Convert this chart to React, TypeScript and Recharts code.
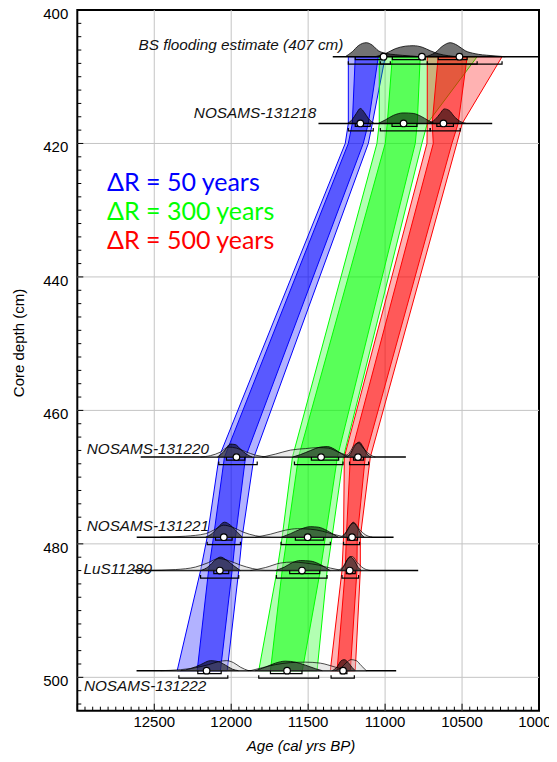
import React from 'react';
import { ComposedChart, Scatter, XAxis, YAxis, ReferenceLine, ReferenceArea, Curve } from 'recharts';

// ---- axes ----
const xTickLabels = [12500, 12000, 11500, 11000, 10500, 10000];
const yTickLabels = [400, 420, 440, 460, 480, 500];
const xAllTicks = Array.from({ length: 61 }, (_, i) => 10000 + i * 50);
const yAllTicks = Array.from({ length: 53 }, (_, i) => 400 + i * 2);

// ---- age-depth envelopes, [older, younger] cal BP at each band depth ----
const bandDepths = [407, 417, 420, 467, 479, 484, 499];
const blue95 = [[11239, 10999], [11239, 11083], [11259, 11109], [12079, 11852], [12156, 11929], [12199, 11951], [12351, 12026]];
const blue68 = [[11194, 11044], [11213, 11109], [11239, 11142], [12044, 11907], [12115, 11972], [12147, 11994], [12221, 12070]];
const green95 = [[11038, 10402], [11038, 10726], [11053, 10761], [11602, 11271], [11669, 11345], [11702, 11377], [11821, 11442]];
const green68 = [[10953, 10772], [10986, 10791], [10999, 10804], [11563, 11310], [11637, 11388], [11669, 11421], [11745, 11538]];
const red95 = [[10726, 10240], [10726, 10499], [10728, 10534], [11265, 11096], [11270, 11161], [11280, 11161], [11356, 11194]];
const red68 = [[10655, 10467], [10694, 10525], [10687, 10566], [11226, 11129], [11252, 11181], [11259, 11183], [11312, 11226]];

// ---- dated samples ----
const sampleNames = ['BS flooding estimate (407 cm)', 'NOSAMS-131218', 'NOSAMS-131220', 'NOSAMS-131221', 'LuS11280', 'NOSAMS-131222'];
const sampleDepths = [407, 417, 467, 479, 484, 499];
const baselineSpans = [[11340, 10000], [11433, 10304], [12588, 10865], [12614, 10945], [12642, 10785], [12615, 10928]];

const medianBlue = [11010, 11161, 11966, 12048, 12074, 12160];
const medianGreen = [10761, 10880, 11416, 11503, 11540, 11637];
const medianRed = [10517, 10621, 11176, 11215, 11230, 11273];

const range68Blue = [[11194, 10999], [11194, 11097], [12031, 11912], [12102, 11994], [12113, 12016], [12217, 12065]];
const range95Blue = [[11239, 10966], [11239, 11077], [12081, 11831], [12156, 11940], [12199, 11951], [12340, 12022]];
const range68Green = [[10953, 10739], [10955, 10793], [11479, 11302], [11583, 11399], [11620, 11425], [11745, 11540]];
const range95Green = [[11031, 10402], [11031, 10707], [11589, 11273], [11676, 11356], [11706, 11377], [11821, 11432]];
const range68Red = [[10655, 10467], [10664, 10556], [11205, 11140], [11244, 11179], [11252, 11194], [11291, 11248]];
const range95Red = [[10726, 10240], [10707, 10512], [11231, 11107], [11270, 11166], [11280, 11172], [11351, 11200]];

// probability curves: [age, relative density]
const posteriorBlue = [
  [[11259, 0], [11213, 0.5], [11174, 1.1], [11122, 1.4], [11083, 1.15], [11044, 0.6], [10999, 0.35], [10934, 0.2], [10837, 0.08], [10772, 0]],
  [[11245, 0], [11213, 0.4], [11187, 1.0], [11161, 1.5], [11135, 1.1], [11109, 0.5], [11070, 0]],
  [[12090, 0], [12051, 0.5], [12005, 1.3], [11973, 1.25], [11940, 0.8], [11901, 0.3], [11862, 0]],
  [[12167, 0], [12121, 0.4], [12082, 1.05], [12044, 1.5], [12005, 1.2], [11966, 0.6], [11927, 0]],
  [[12199, 0], [12147, 0.4], [12108, 1.0], [12070, 1.35], [12031, 1.05], [11985, 0.5], [11940, 0]],
  [[12329, 0], [12264, 0.2], [12199, 0.6], [12134, 1.0], [12082, 0.9], [12037, 0.55], [11992, 0.15], [11953, 0]],
];
const priorBlue = [
  [],
  [],
  [[12199, 0], [12134, 0.15], [12070, 0.5], [12018, 1.0], [11966, 0.9], [11907, 0.55], [11843, 0.2], [11759, 0]],
  [[12459, 0], [12297, 0.1], [12167, 0.35], [12102, 0.8], [12050, 1.2], [11992, 1.0], [11921, 0.5], [11843, 0.15], [11745, 0]],
  [[12545, 0], [12362, 0.1], [12232, 0.35], [12147, 0.8], [12082, 1.2], [12018, 1.0], [11940, 0.55], [11862, 0.2], [11778, 0]],
  [[12459, 0], [12329, 0.1], [12232, 0.3], [12147, 0.6], [12082, 0.9], [12031, 1.0], [11985, 0.8], [11940, 0.35], [11888, 0]],
];
const posteriorGreen = [
  [[11064, 0], [10999, 0.3], [10934, 0.8], [10869, 1.05], [10817, 1.1], [10759, 0.95], [10707, 0.6], [10655, 0.3], [10590, 0.1], [10525, 0]],
  [[11044, 0], [10999, 0.35], [10947, 0.8], [10882, 1.05], [10817, 1.0], [10765, 0.7], [10720, 0.3], [10681, 0]],
  [[11602, 0], [11550, 0.25], [11486, 0.65], [11421, 1.0], [11375, 1.05], [11330, 0.8], [11285, 0.35], [11239, 0]],
  [[11674, 0], [11615, 0.35], [11550, 0.8], [11486, 1.05], [11434, 1.0], [11382, 0.7], [11337, 0.3], [11304, 0]],
  [[11713, 0], [11654, 0.35], [11602, 0.8], [11550, 1.0], [11486, 0.95], [11434, 0.7], [11388, 0.3], [11356, 0]],
  [[11843, 0], [11778, 0.35], [11713, 0.75], [11648, 0.95], [11583, 0.85], [11518, 0.55], [11453, 0.2], [11408, 0]],
];
const priorGreen = [
  [],
  [],
  [[11797, 0], [11713, 0.3], [11615, 0.7], [11518, 0.85], [11434, 0.95], [11369, 0.9], [11304, 0.5], [11239, 0.15], [11194, 0]],
  [[11843, 0], [11745, 0.3], [11648, 0.7], [11570, 0.85], [11486, 0.8], [11408, 0.6], [11337, 0.3], [11259, 0]],
  [[11875, 0], [11778, 0.3], [11680, 0.75], [11602, 0.85], [11518, 0.75], [11434, 0.55], [11356, 0.25], [11278, 0]],
  [[11875, 0], [11797, 0.3], [11713, 0.6], [11615, 0.8], [11518, 0.85], [11421, 0.75], [11323, 0.35], [11239, 0]],
];
const posteriorRed = [
  [[10739, 0], [10675, 0.4], [10623, 1.1], [10577, 1.4], [10532, 1.15], [10480, 0.6], [10415, 0.3], [10318, 0.12], [10220, 0]],
  [[10720, 0], [10675, 0.4], [10642, 1.0], [10616, 1.45], [10584, 1.3], [10551, 0.7], [10512, 0.2], [10473, 0]],
  [[11246, 0], [11220, 0.5], [11194, 1.2], [11168, 1.5], [11142, 1.0], [11116, 0.3], [11090, 0]],
  [[11278, 0], [11252, 0.5], [11226, 1.2], [11207, 1.5], [11181, 1.0], [11155, 0.3], [11135, 0]],
  [[11291, 0], [11265, 0.5], [11246, 1.1], [11226, 1.4], [11200, 1.0], [11174, 0.3], [11155, 0]],
  [[11343, 0], [11311, 0.4], [11285, 1.0], [11265, 1.1], [11239, 0.8], [11213, 0.3], [11194, 0]],
];
const priorRed = [
  [],
  [],
  [[11265, 0], [11233, 0.4], [11200, 1.2], [11174, 1.4], [11142, 0.9], [11103, 0.3], [11064, 0]],
  [[11291, 0], [11259, 0.4], [11226, 1.2], [11200, 1.4], [11168, 0.8], [11129, 0.25], [11083, 0]],
  [[11304, 0], [11272, 0.4], [11239, 1.2], [11213, 1.4], [11181, 0.8], [11142, 0.25], [11096, 0]],
  [[11323, 0], [11285, 0.3], [11252, 0.8], [11220, 1.1], [11187, 1.0], [11155, 0.5], [11122, 0]],
];

const legendLabels = ['ΔR = 50 years', 'ΔR = 300 years', 'ΔR = 500 years'];

const BLUE = '#0000ff';
const GREEN = '#00ff00';
const RED = '#ff0000';
const FONT = '"Liberation Sans", Arial, Helvetica, sans-serif';
const DENSITY_CM = 1.5;

const groups = [
  { posterior: posteriorBlue, prior: priorBlue, median: medianBlue, r68: range68Blue, r95: range95Blue },
  { posterior: posteriorGreen, prior: priorGreen, median: medianGreen, r68: range68Green, r95: range95Green },
  { posterior: posteriorRed, prior: priorRed, median: medianRed, r68: range68Red, r95: range95Red },
];
const bands = [
  { color: BLUE, outer: blue95, inner: blue68 },
  { color: GREEN, outer: green95, inner: green68 },
  { color: RED, outer: red95, inner: red68 },
];
// where each sample label is anchored (age) and how it sits on its baseline
const labelAnchors = [
  { age: 11271, anchor: 'end', dy: -7 },
  { age: 11447, anchor: 'end', dy: -5.5 },
  { age: 12939, anchor: 'start', dy: -3 },
  { age: 12939, anchor: 'start', dy: -6 },
  { age: 12960, anchor: 'start', dy: 3.5 },
  { age: 12957, anchor: 'start', dy: 20 },
];

const polygonOf = (band: number[][]) => [
  ...band.map((r, i) => ({ age: r[0], depth: bandDepths[i] })),
  ...band.map((r, i) => ({ age: r[1], depth: bandDepths[i] })).reverse(),
];
const curveOf = (curve: number[][], depth: number) =>
  curve.map(([age, d]) => ({ age, depth: depth - d * DENSITY_CM }));

const Nothing = () => <g />;

const polygonLine = (color: string, opacity: number) => (p: any) => (
  <path
    d={'M' + p.points.map((q: any) => `${q.x},${q.y}`).join('L') + 'Z'}
    fill={color}
    fillOpacity={opacity}
    stroke={color}
    strokeWidth={1}
  />
);

const densityLine = (fill: string, fillOpacity: number, strokeWidth: number) => (p: any) => (
  <Curve points={p.points} type="monotoneX" fill={fill} fillOpacity={fillOpacity} stroke="#000" strokeWidth={strokeWidth} />
);

const bracketLine = (offset: number) => (p: any) => {
  const [a, b] = p.points;
  const y = a.y + offset;
  return <path d={`M${a.x},${y - 3}V${y}H${b.x}V${y - 3}`} fill="none" stroke="#000" strokeWidth={1.2} />;
};

const baseLine = (p: any) => {
  const [a, b] = p.points;
  return <line x1={a.x} y1={a.y} x2={b.x} y2={b.y} stroke="#000" strokeWidth={1.5} />;
};

const MedianDot = (p: any) => <circle cx={p.cx} cy={p.cy} r={3.3} fill="#fff" stroke="#000" strokeWidth={1.2} />;

const XTick = (props: any) => {
  const { x, y, payload } = props;
  const v = payload.value;
  const major = v % 500 === 0;
  return (
    <g>
      <line x1={x} x2={x} y1={y} y2={y - (major ? 7 : 4)} stroke="#000" strokeWidth={1} />
      {xTickLabels.includes(v) && (
        <text x={x} y={y + 16} textAnchor="middle" fontSize={15} fontFamily={FONT} fill="#000">
          {v}
        </text>
      )}
    </g>
  );
};

const YTick = (props: any) => {
  const { x, y, payload } = props;
  const v = payload.value;
  const major = v % 20 === 0;
  return (
    <g>
      <line x1={x} x2={x + (major ? 6 : 4)} y1={y} y2={y} stroke="#000" strokeWidth={1} />
      {yTickLabels.includes(v) && (
        <text x={x - 9} y={y + 9} textAnchor="end" fontSize={15} fontFamily={FONT} fill="#000">
          {v}
        </text>
      )}
    </g>
  );
};

export default function App() {
  return (
    <div style={{ position: 'relative', width: 541, height: 746 }}>
      <style>{'.recharts-surface{overflow:visible}'}</style>
      <ComposedChart width={541} height={746} margin={{ top: 2, right: 10, left: 0, bottom: 0 }}>
        <XAxis
          type="number"
          dataKey="age"
          domain={[10000, 13000]}
          reversed
          ticks={xAllTicks}
          interval={0}
          tickSize={0}
          tickMargin={0}
          axisLine={false}
          tickLine={false}
          tick={XTick}
          height={43.3}
        />
        <YAxis
          type="number"
          dataKey="depth"
          domain={[400, 505]}
          reversed
          ticks={yAllTicks}
          interval={0}
          tickSize={0}
          tickMargin={0}
          axisLine={false}
          tickLine={false}
          tick={YTick}
          width={69.3}
        />
        {xTickLabels.slice(0, 5).map((v) => (
          <ReferenceLine key={`gx${v}`} x={v} stroke="#c4c4c4" strokeWidth={1} />
        ))}
        {yTickLabels.slice(1).map((v) => (
          <ReferenceLine key={`gy${v}`} y={v} stroke="#c4c4c4" strokeWidth={1} />
        ))}

        {bands.map((b, i) => [
          <Scatter key={`o${i}`} data={polygonOf(b.outer)} shape={Nothing} line={polygonLine(b.color, 0.3)} isAnimationActive={false} />,
          <Scatter key={`i${i}`} data={polygonOf(b.inner)} shape={Nothing} line={polygonLine(b.color, 0.5)} isAnimationActive={false} />,
        ])}

        {sampleDepths.map((d, s) => (
          <Scatter
            key={`base${s}`}
            data={baselineSpans[s].map((age) => ({ age, depth: d }))}
            shape={Nothing}
            line={baseLine}
            isAnimationActive={false}
          />
        ))}

        {groups.map((g, gi) =>
          sampleDepths.map((d, s) =>
            g.prior[s].length ? (
              <Scatter
                key={`pr${gi}-${s}`}
                data={curveOf(g.prior[s], d)}
                shape={Nothing}
                line={densityLine('#c8c8c8', 0.4, 0.7)}
                isAnimationActive={false}
              />
            ) : null
          )
        )}
        {groups.map((g, gi) =>
          sampleDepths.map((d, s) => (
            <Scatter
              key={`po${gi}-${s}`}
              data={curveOf(g.posterior[s], d)}
              shape={Nothing}
              line={densityLine('#000', 0.55, 0.8)}
              isAnimationActive={false}
            />
          ))
        )}
        {groups.map((g, gi) =>
          sampleDepths.map((d, s) => [
            <Scatter
              key={`r95${gi}-${s}`}
              data={g.r95[s].map((age) => ({ age, depth: d }))}
              shape={Nothing}
              line={bracketLine(7.5)}
              isAnimationActive={false}
            />,
            <Scatter
              key={`r68${gi}-${s}`}
              data={g.r68[s].map((age) => ({ age, depth: d }))}
              shape={Nothing}
              line={bracketLine(3)}
              isAnimationActive={false}
            />,
          ])
        )}
        {groups.map((g, gi) => (
          <Scatter
            key={`med${gi}`}
            data={g.median.map((age, s) => ({ age, depth: sampleDepths[s] }))}
            shape={MedianDot}
            isAnimationActive={false}
          />
        ))}

        {sampleNames.map((name, s) => (
          <Scatter
            key={`lab${s}`}
            data={[{ age: labelAnchors[s].age, depth: sampleDepths[s] }]}
            shape={(p: any) => (
              <text
                x={p.cx}
                y={p.cy + labelAnchors[s].dy}
                textAnchor={labelAnchors[s].anchor}
                fontSize={15.3}
                fontStyle="italic"
                fontFamily={FONT}
                fill="#111"
              >
                {name}
              </text>
            )}
            isAnimationActive={false}
          />
        ))}

        <ReferenceArea x1={13000} x2={10000} y1={400} y2={505} fill="none" stroke="#000" strokeWidth={2} />
      </ComposedChart>

      <svg width={541} height={746} style={{ position: 'absolute', left: 0, top: 0, pointerEvents: 'none', overflow: 'visible' }}>
        {legendLabels.map((t, i) => (
          <text
            key={t}
            x={99}
            y={183 + i * 29}
            fontSize={25}
            fontFamily='Lato, "Open Sans", sans-serif'
            fill={[BLUE, GREEN, RED][i]}
          >
            {t}
          </text>
        ))}
        <text
          transform="translate(16,335) rotate(-90)"
          textAnchor="middle"
          fontSize={15}
          fontFamily={FONT}
          fill="#000"
        >
          Core depth (cm)
        </text>
        <text x={293} y={743} textAnchor="middle" fontSize={15} fontStyle="italic" fontFamily={FONT} fill="#000">
          Age (cal yrs BP)
        </text>
      </svg>
    </div>
  );
}
